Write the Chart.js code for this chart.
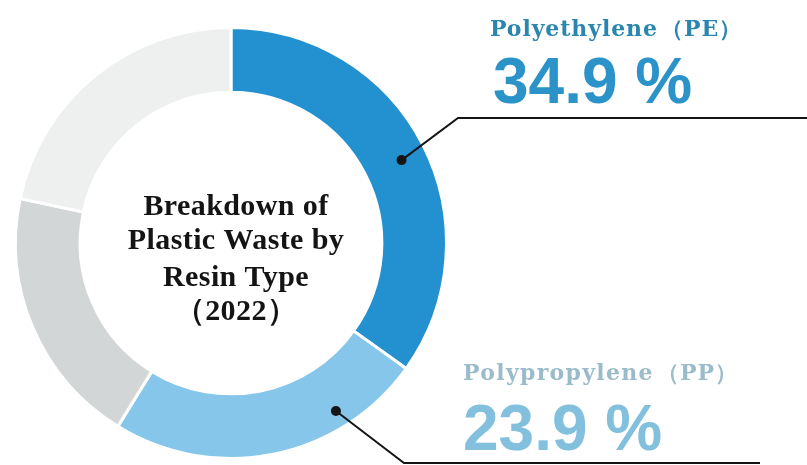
<!DOCTYPE html>
<html>
<head>
<meta charset="utf-8">
<script src="https://cdn.jsdelivr.net/npm/chart.js@4.4.0/dist/chart.umd.min.js"></script>
<style>
  html, body { margin: 0; padding: 0; background: #ffffff; }
  #wrap { width: 807px; height: 465px; position: relative; }
</style>
</head>
<body>
<div id="wrap"><canvas id="resinChart" width="807" height="465"></canvas></div>
<script>
// data (the two grey slices have no label in the original)
const resinLabels = ['Polyethylene（PE）', 'Polypropylene（PP）', 'Other resins', 'Other'];
const resinShares = [34.9, 23.9, 19.5, 21.7];
const resinColors = ['#2391cf', '#86c6ea', '#d3d6d7', '#eef0f0'];
const centerTitle = ['Breakdown of', 'Plastic Waste by', 'Resin Type', '（2022）'];

// callouts drawn next to the ring: which slice, where along it the dot sits
const callouts = [
    { index: 0, along: 0.51, depth: 0.6, elbow: [458, 118], end: 807, spacing: 0.9,
      title: { x: 490, px: 661, y: 36, font: 'bold 22px "DejaVu Serif", serif', color: '#2a86ae' },
      value: { x: 493, y: 103, font: 'bold 64px "Liberation Sans", Arial, sans-serif', color: '#2b93c8' } },
    { index: 1, along: 0.26, depth: 0.73, elbow: [404, 463], end: 760, spacing: 1.3,
      title: { x: 463, px: 657, y: 380, font: 'bold 22px "DejaVu Serif", serif', color: '#9abbca' },
      value: { x: 463, y: 450, font: 'bold 64px "Liberation Sans", Arial, sans-serif', color: '#82c0de' } }
];

const calloutPlugin = {
    id: 'callouts',
    afterDraw(chart) {
        const ctx = chart.ctx;
        const arcs = chart.getDatasetMeta(0).data;
        ctx.save();

        // center title
        const c = arcs[0];
        ctx.fillStyle = '#141414';
        ctx.font = 'bold 30px "Liberation Serif", "Times New Roman", serif';
        ctx.textAlign = 'center';
        ctx.textBaseline = 'alphabetic';
        ctx.letterSpacing = '0.4px';
        const baselines = [215, 249, 286, 320];
        centerTitle.forEach((line, i) => {
            ctx.fillText(line, c.x + 5, baselines[i]);
        });

        callouts.forEach(co => {
            const arc = arcs[co.index];
            const a = arc.startAngle + co.along * (arc.endAngle - arc.startAngle);
            const r = arc.innerRadius + co.depth * (arc.outerRadius - arc.innerRadius);
            const px = arc.x + Math.cos(a) * r;
            const py = arc.y + Math.sin(a) * r;

            ctx.strokeStyle = '#151515';
            ctx.lineWidth = 2;
            ctx.beginPath();
            ctx.moveTo(px, py);
            ctx.lineTo(co.elbow[0], co.elbow[1]);
            ctx.lineTo(co.end, co.elbow[1]);
            ctx.stroke();

            ctx.fillStyle = '#151515';
            ctx.beginPath();
            ctx.arc(px, py, 5, 0, Math.PI * 2);
            ctx.fill();

            // name and full-width bracketed abbreviation are placed separately
            const label = resinLabels[co.index];
            const cut = label.indexOf('（');
            ctx.textAlign = 'left';
            ctx.font = co.title.font;
            ctx.fillStyle = co.title.color;
            ctx.letterSpacing = co.spacing + 'px';
            ctx.fillText(label.slice(0, cut), co.title.x, co.title.y);
            ctx.letterSpacing = '1px';
            ctx.fillText(label.slice(cut), co.title.px, co.title.y);

            ctx.letterSpacing = '0px';
            ctx.font = co.value.font;
            ctx.fillStyle = co.value.color;
            ctx.fillText(resinShares[co.index].toFixed(1) + ' %', co.value.x, co.value.y);
        });
        ctx.restore();
    }
};

new Chart(document.getElementById('resinChart'), {
    type: 'doughnut',
    data: {
        labels: resinLabels,
        datasets: [{
            data: resinShares,
            backgroundColor: resinColors,
            borderColor: '#ffffff',
            borderWidth: 3
        }]
    },
    options: {
        responsive: false,
        animation: false,
        cutout: '70%',
        layout: { padding: { left: 14, right: 359, top: 26, bottom: 5 } },
        plugins: {
            legend: { display: false },
            tooltip: { enabled: false }
        }
    },
    plugins: [calloutPlugin]
});
</script>
</body>
</html>
